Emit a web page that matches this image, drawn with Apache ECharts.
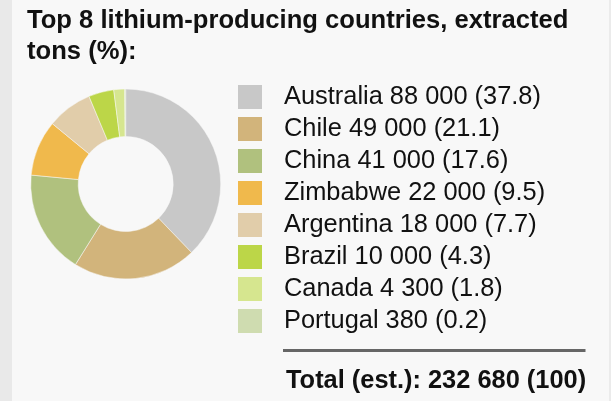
<!DOCTYPE html>
<html>
<head>
<meta charset="utf-8">
<script src="https://cdn.jsdelivr.net/npm/echarts@6/dist/echarts.min.js"></script>
<style>
html,body{margin:0;padding:0;background:#f8f8f8;}
#chart{width:611px;height:401px;}
</style>
</head>
<body>
<div id="chart"></div>
<script>
var countries = ['Australia','Chile','China','Zimbabwe','Argentina','Brazil','Canada','Portugal'];
var tons = [88000, 49000, 41000, 22000, 18000, 10000, 4300, 380];
var percents = ['37.8','21.1','17.6','9.5','7.7','4.3','1.8','0.2'];
var colors = ['#c8c8c8','#d2b47b','#b0c17e','#f0b94c','#e1cdaa','#bcd648','#d6e68f','#cfdcb0'];
var totalTons = 232680;
var titleText = 'Top 8 lithium-producing countries, extracted\ntons (%):';

function fmt(n){ return String(n).replace(/\B(?=(\d{3})+(?!\d))/g, ' '); }

var FONT = '"Liberation Sans", Arial, sans-serif';
var chart = echarts.init(document.getElementById('chart'));
chart.setOption({
  backgroundColor: '#f8f8f8',
  animation: false,
  color: colors,
  title: {
    text: titleText,
    left: 27, top: 5.5, padding: 0,
    textStyle: { fontFamily: FONT, fontSize: 25.6, fontWeight: 'bold', color: '#111', lineHeight: 31 }
  },
  legend: {
    orient: 'vertical',
    left: 236, top: 83, padding: 0,
    itemWidth: 26, itemHeight: 26, itemGap: 4,
    icon: 'rect',
    selectedMode: false,
    data: countries,
    formatter: function(name){
      var i = countries.indexOf(name);
      return name + ' ' + fmt(tons[i]) + ' (' + percents[i] + ')';
    },
    textStyle: { fontFamily: FONT, fontSize: 25.4, lineHeight: 26, color: '#111', padding: [0,0,0,16] }
  },
  series: [{
    type: 'pie',
    center: [125.7, 184],
    radius: [47.5, 95],
    startAngle: 90,
    clockwise: true,
    label: { show: false },
    labelLine: { show: false },
    emphasis: { disabled: true },
    itemStyle: { borderColor: '#f8f8f8', borderWidth: 0.5 },
    data: countries.map(function(c, i){ return { name: c, value: tons[i] }; })
  }],
  graphic: [
    { type: 'rect', shape: { x: 0, y: 0, width: 12, height: 401 }, style: { fill: '#e9e9e9' }, silent: true },
    { type: 'rect', shape: { x: 609, y: 0, width: 2, height: 401 }, style: { fill: '#ebebeb' }, silent: true },
    { type: 'line', shape: { x1: 283, y1: 350.5, x2: 585.5, y2: 350.5 }, style: { stroke: '#666', lineWidth: 3 }, silent: true },
    { type: 'text', x: 286, y: 381, style: { text: 'Total (est.): ' + fmt(totalTons) + ' (100)', font: 'bold 25.4px ' + FONT, fill: '#111', verticalAlign: 'middle', align: 'left' }, silent: true }
  ]
});
</script>
</body>
</html>
